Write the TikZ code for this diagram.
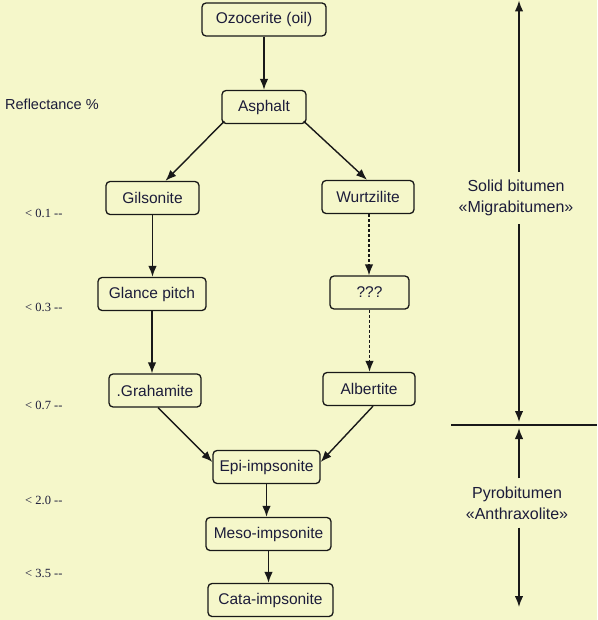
\documentclass[tikz,border=0pt]{standalone}
\usepackage{fontspec}
\setmainfont{Liberation Serif}
\setsansfont{Liberation Sans}
\usetikzlibrary{arrows.meta}
\definecolor{bg}{RGB}{245,247,202}
\definecolor{txt}{RGB}{28,28,58}
\definecolor{ln}{RGB}{25,25,25}
\begin{document}
\begin{tikzpicture}[x=1pt,y=-1pt,
  box/.style={draw=ln, line width=1.3pt, rounded corners=4pt, fill=bg,
    minimum height=33pt, inner sep=0pt, text=txt,
    font=\sffamily\fontsize{15.5}{18}\selectfont},
  arr/.style={draw=ln, line width=1.4pt, -{Latex[length=11pt,width=8.5pt]}},
  darr/.style={arr, dash pattern=on 3pt off 2pt},
  sidelab/.style={font=\sffamily\fontsize{16}{21}\selectfont, text=txt, align=center, inner sep=0pt},
  reflab/.style={font=\fontsize{12.5}{14}\selectfont, text=txt, anchor=west, inner sep=0pt}]
\fill[bg] (0,0) rectangle (597,620);
\useasboundingbox (0,0) rectangle (597,620);

% nodes
\node[box, minimum width=124pt] (oz) at (264,19.5) {Ozocerite (oil)};
\node[box, minimum width=84pt] (as) at (264,107) {Asphalt};
\node[box, minimum width=93pt] (gil) at (152.5,198) {Gilsonite};
\node[box, minimum width=92pt] (wu) at (368,197) {Wurtzilite};
\node[box, minimum width=108pt] (gl) at (152,294) {Glance pitch};
\node[box, minimum width=79pt] (qq) at (369.5,292.5) {???};
\node[box, minimum width=92pt] (gr) at (155,390.5) {.Grahamite};
\node[box, minimum width=92pt] (al) at (369,389) {Albertite};
\node[box, minimum width=107pt] (epi) at (266.5,467) {Epi-impsonite};
\node[box, minimum width=125pt] (meso) at (268.5,534) {Meso-impsonite};
\node[box, minimum width=125pt] (cata) at (270.5,600) {Cata-impsonite};

% arrows
\draw[arr] (oz.south) -- (oz.south |- as.north);
\draw[arr] ([xshift=3pt,yshift=3pt]as.south west) -- ([xshift=13pt]gil.north);
\draw[arr] ([xshift=-3pt,yshift=3pt]as.south east) -- ([xshift=-1pt]wu.north);
\draw[arr] (gil.south) -- (gil.south |- gl.north);
\draw[arr] (gl.south) -- (gl.south |- gr.north);
\draw[darr] ([xshift=1pt]wu.south) -- ([xshift=1pt]wu.south |- qq.north);
\draw[darr] (qq.south) -- (qq.south |- al.north);
\draw[arr] ([xshift=3pt]gr.south) -- ([yshift=5pt]epi.west);
\draw[arr] ([xshift=4pt]al.south) -- ([yshift=5pt]epi.east);
\draw[arr] (epi.south) -- (epi.south |- meso.north);
\draw[arr] (meso.south) -- (meso.south |- cata.north);

% reflectance labels
\node[sidelab, anchor=west, font=\sffamily\fontsize{14.5}{17}\selectfont] (refl) at (5,104) {Reflectance \%};
\node[reflab] (r1) at (25,213) {< 0.1 -{}-};
\node[reflab] (r3) at (25,307) {< 0.3 -{}-};
\node[reflab] (r7) at (25,405) {< 0.7 -{}-};
\node[reflab] (r20) at (25,500) {< 2.0 -{}-};
\node[reflab] (r35) at (25,573) {< 3.5 -{}-};

% right scale
\node[sidelab] (solid) at (516,198) {Solid bitumen\\«Migrabitumen»};
\node[sidelab] (pyro) at (517,503) {Pyrobitumen\\«Anthraxolite»};
\coordinate (top) at (519,0.5);
\coordinate (mid) at (519,422);
\coordinate (midb) at (519,428);
\coordinate (bot) at (519,607);
\coordinate (hl) at (451,425);
\coordinate (hr) at (597,425);
\draw[line width=1.4pt, draw=ln] (hl) -- (hr);
\draw[arr] (solid.north -| top) ++(0,-8) -- (top);
\draw[arr] (solid.south -| mid) ++(0,8) -- (mid);
\draw[arr] (pyro.north -| midb) ++(0,-8) -- (midb);
\draw[arr] (pyro.south -| bot) ++(0,8) -- (bot);
\end{tikzpicture}
\end{document}
